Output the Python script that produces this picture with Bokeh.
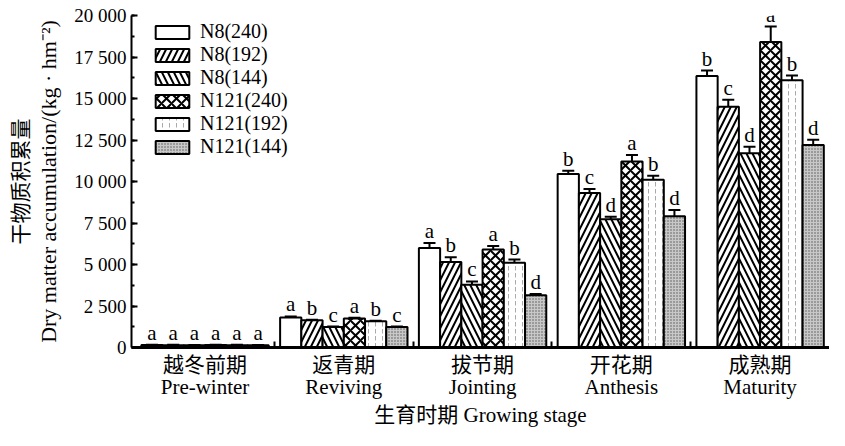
import numpy as np
from bokeh.plotting import figure
from bokeh.models import (ColumnDataSource, Range1d, FixedTicker, SingleIntervalTicker,
                          LinearAxis, Whisker, TeeHead, Legend, LegendItem, LabelSet)
from bokeh.embed import file_html
from bokeh.resources import INLINE
from bokeh.core.properties import value

stages_cn = ["越冬前期", "返青期", "拔节期", "开花期", "成熟期"]
stages_en = ["Pre-winter", "Reviving", "Jointing", "Anthesis", "Maturity"]
treatments = ["N8(240)", "N8(192)", "N8(144)", "N121(240)", "N121(192)", "N121(144)"]

n8_240 = [150, 1810, 6000, 10450, 16350]
n8_192 = [140, 1640, 5150, 9300, 14500]
n8_144 = [130, 1230, 3780, 7720, 11700]
n121_240 = [150, 1750, 5900, 11200, 18400]
n121_192 = [140, 1580, 5100, 10100, 16100]
n121_144 = [130, 1230, 3150, 7900, 12200]

err_n8_240 = [20, 60, 300, 200, 330]
err_n8_192 = [20, 30, 280, 250, 430]
err_n8_144 = [20, 30, 200, 150, 400]
err_n121_240 = [20, 40, 220, 400, 930]
err_n121_192 = [20, 30, 200, 250, 280]
err_n121_144 = [20, 30, 80, 380, 320]

let_n8_240 = ["a", "a", "a", "b", "b"]
let_n8_192 = ["a", "b", "b", "c", "c"]
let_n8_144 = ["a", "c", "c", "d", "d"]
let_n121_240 = ["a", "a", "a", "a", "a"]
let_n121_192 = ["a", "b", "b", "b", "b"]
let_n121_144 = ["a", "c", "d", "d", "d"]

y_ticks = [0, 2500, 5000, 7500, 10000, 12500, 15000, 17500, 20000]
y_tick_labels = ["0", "2 500", "5 000", "7 500", "10 000", "12 500", "15 000", "17 500", "20 000"]

means = [n8_240, n8_192, n8_144, n121_240, n121_192, n121_144]
errs = [err_n8_240, err_n8_192, err_n8_144, err_n121_240, err_n121_192, err_n121_144]
lets = [let_n8_240, let_n8_192, let_n8_144, let_n121_240, let_n121_192, let_n121_144]

styles = [
    dict(fill_color="white", hatch_pattern=" "),
    dict(fill_color="white", hatch_pattern="/", hatch_scale=12, hatch_weight=2, hatch_color="black"),
    dict(fill_color="white", hatch_pattern="\\", hatch_scale=12, hatch_weight=2, hatch_color="black"),
    dict(fill_color="white", hatch_pattern="x", hatch_scale=10, hatch_weight=2, hatch_color="black"),
    dict(fill_color="white", hatch_pattern=":", hatch_scale=7, hatch_weight=1, hatch_color="#aaaaaa"),
    dict(fill_color="#c8c8c8", hatch_pattern=".", hatch_scale=3, hatch_weight=1, hatch_color="#555555"),
]

SERIF = "Liberation Serif"
MIX = "Liberation Serif, Noto Sans CJK SC"

p = figure(width=829, height=430, output_backend="svg", toolbar_location=None,
           x_range=Range1d(-0.03, 5.0), y_range=Range1d(0, 20000),
           min_border_left=128, min_border_right=0, min_border_top=15, min_border_bottom=70)
p.outline_line_color = None
p.grid.visible = False

bw = 0.153
items = []
for j, name in enumerate(treatments):
    xs = np.arange(len(stages_en)) + 0.5 + (j - 2.5) * bw
    m = np.array(means[j], dtype=float)
    e = np.array(errs[j], dtype=float)
    src = ColumnDataSource(dict(x=xs, top=m, upper=m + e, lower=m - e, letter=lets[j]))
    r = p.vbar(x="x", top="top", width=bw, source=src, line_color="black", line_width=2, **styles[j])
    items.append(LegendItem(label=name, renderers=[r]))
    wh = Whisker(source=src, base="x", upper="upper", lower="lower", line_width=2,
                 upper_head=TeeHead(size=12, line_width=2), lower_head=TeeHead(size=12, line_width=2))
    p.add_layout(wh)
    ls = LabelSet(x="x", y="upper", text="letter", source=src, text_align="center",
                  text_baseline="bottom", text_font=value(SERIF), text_font_size="21px",
                  y_offset=0, text_color="black")
    p.add_layout(ls)

legend = Legend(items=items, location=(20, 189), glyph_width=42, glyph_height=16,
                label_height=20, spacing=0, padding=0, margin=0,
                label_text_font=SERIF, label_text_font_size="20px", label_standoff=7,
                label_text_color="black",
                background_fill_alpha=0, border_line_color=None)
p.add_layout(legend)

# y axis
ya = p.yaxis[0]
ya.ticker = SingleIntervalTicker(interval=2500, num_minor_ticks=2)
ya.major_label_overrides = {float(t): l for t, l in zip(y_ticks, y_tick_labels)}
ya.major_tick_in = 6
ya.major_tick_out = 0
ya.minor_tick_in = 3
ya.minor_tick_out = 0
ya.major_tick_line_width = 2
ya.minor_tick_line_width = 2
ya.axis_line_width = 2
ya.major_label_text_font = SERIF
ya.major_label_text_font_size = "19px"
ya.major_label_text_color = "black"
ya.major_label_standoff = 5
ya.axis_label = "Dry matter accumulation/(kg · hm⁻²)"
ya.axis_label_text_font = SERIF
ya.axis_label_text_font_size = "22px"
ya.axis_label_text_font_style = "normal"
ya.axis_label_text_color = "black"
ya.axis_label_standoff = 10

ya2 = LinearAxis(ticker=FixedTicker(ticks=[]), axis_line_color=None,
                 major_tick_line_color=None, minor_tick_line_color=None,
                 major_label_standoff=0, axis_label_standoff=0,
                 axis_label="干物质积累量", axis_label_text_font="Noto Sans CJK SC",
                 axis_label_text_font_size="21px", axis_label_text_font_style="normal",
                 axis_label_text_color="black")
p.add_layout(ya2, "left")

# x axis
xa = p.xaxis[0]
xa.ticker = FixedTicker(ticks=[i + 0.5 for i in range(len(stages_en))],
                        minor_ticks=[float(i) for i in range(1, len(stages_en))])
xa.major_label_overrides = {i + 0.5: f"{c}\n{e}" for i, (c, e) in enumerate(zip(stages_cn, stages_en))}
xa.major_tick_in = 0
xa.major_tick_out = 0
xa.minor_tick_in = 6
xa.minor_tick_out = 0
xa.minor_tick_line_width = 2
xa.axis_line_width = 3
xa.major_label_text_font = MIX
xa.major_label_text_font_size = "21px"
xa.major_label_text_line_height = 0.95
xa.major_label_text_color = "black"
xa.major_label_standoff = 5
xa.axis_label = "生育时期 Growing stage"
xa.axis_label_text_font = MIX
xa.axis_label_text_font_size = "21px"
xa.axis_label_text_font_style = "normal"
xa.axis_label_text_color = "black"
xa.axis_label_standoff = 1

open("out.html", "w").write(file_html(p, INLINE))
